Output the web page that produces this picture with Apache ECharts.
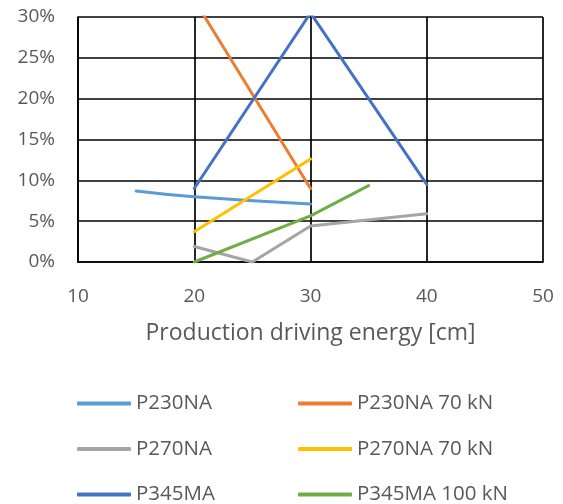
<!DOCTYPE html>
<html><head><meta charset="utf-8">
<script src="https://cdn.jsdelivr.net/npm/echarts@6/dist/echarts.min.js"></script>
<style>html,body{margin:0;padding:0;background:#fff}#c{width:563px;height:504px}</style>
</head><body><div id="c"></div>
<script>
var seriesNames = ['P230NA','P230NA 70 kN','P270NA','P270NA 70 kN','P345MA','P345MA 100 kN'];
var colors = ['#5B9BD5','#ED7D31','#A5A5A5','#FFC000','#4472C4','#70AD47'];
var p230naX = [15, 20, 30];
var p230naY = [8.7, 8.0, 7.1];
var p230na70X = [20, 30];
var p230na70Y = [32.1, 9.0];
var p270naX = [20, 25, 30, 40];
var p270naY = [1.9, 0.0, 4.4, 5.9];
var p270na70X = [20, 30];
var p270na70Y = [3.7, 12.6];
var p345maX = [20, 30, 40];
var p345maY = [9.0, 30.5, 9.5];
var p345ma100X = [20, 30, 35];
var p345ma100Y = [0.0, 5.65, 9.35];
var xTicks = [10, 20, 30, 40, 50];
var yTicks = [0, 5, 10, 15, 20, 25, 30];

function pairs(xs, ys){ return xs.map(function(x,i){ return [x, ys[i]]; }); }
var allX = [p230naX,p230na70X,p270naX,p270na70X,p345maX,p345ma100X];
var allY = [p230naY,p230na70Y,p270naY,p270na70Y,p345maY,p345ma100Y];
var FONT = 'Open Sans';
var TXT = '#595959';
var chart = echarts.init(document.getElementById('c'), null, {renderer:'canvas'});
var series = seriesNames.map(function(n,i){
  return {
    name:n, type:'line', data:pairs(allX[i], allY[i]),
    smooth: i===0 ? 0.5 : false,
    showSymbol:false, symbol:'none', clip:true,
    lineStyle:{color:colors[i], width:3, cap:'round'},
    itemStyle:{color:colors[i]}
  };
});
function legendCol(names, left){
  return {
    orient:'vertical', left:left, top:393, height:200, itemWidth:54, itemHeight:4, icon:'roundRect',
    itemGap:24.5, data:names, selectedMode:false, padding:0,
    textStyle:{color:TXT, fontFamily:FONT, fontSize:20.5, lineHeight:21}
  };
}
chart.setOption({
  animation:false,
  grid:{left:78, right:20, top:17, bottom:242},
  legend:[legendCol([seriesNames[0],seriesNames[2],seriesNames[4]],77),
          legendCol([seriesNames[1],seriesNames[3],seriesNames[5]],298)],
  xAxis:{
    type:'value', min:xTicks[0], max:xTicks[xTicks.length-1], interval:10,
    name:'Production driving energy [cm]', nameLocation:'middle', nameGap:60,
    nameTextStyle:{color:TXT, fontFamily:FONT, fontSize:23},
    axisLine:{show:true, lineStyle:{color:'#000', width:1.7}},
    axisTick:{show:false},
    axisLabel:{color:TXT, fontFamily:FONT, fontSize:19, margin:25},
    splitLine:{show:true, lineStyle:{color:'#000', width:1.7}}
  },
  yAxis:{
    type:'value', min:yTicks[0], max:yTicks[yTicks.length-1], interval:5,
    axisLine:{show:true, lineStyle:{color:'#000', width:1.7}},
    axisTick:{show:false},
    axisLabel:{color:TXT, fontFamily:FONT, fontSize:19, margin:23, formatter:'{value}%'},
    splitLine:{show:true, lineStyle:{color:'#000', width:1.7}}
  },
  series:series
});
</script></body></html>
